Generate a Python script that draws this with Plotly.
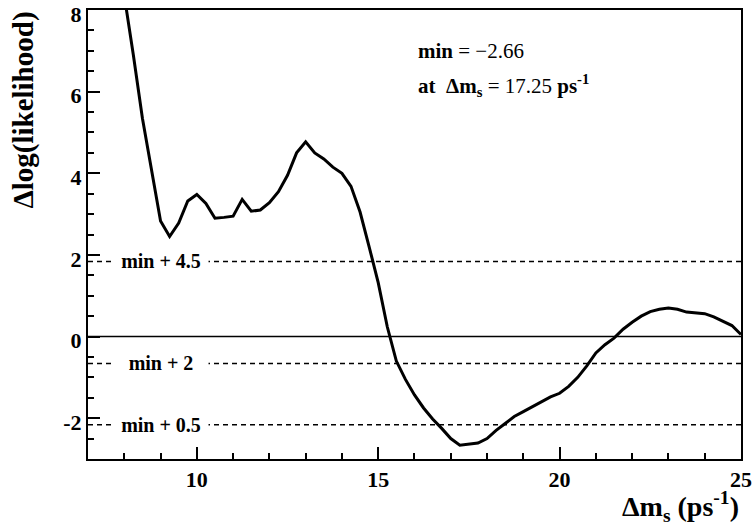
import plotly.graph_objects as go

# Likelihood scan: delta log(likelihood) versus Delta m_s (ps^-1)
dms = [7.75, 8.0, 8.25, 8.5, 8.75, 9.0, 9.25, 9.5, 9.75, 10.0,
       10.25, 10.5, 10.75, 11.0, 11.25, 11.5, 11.75, 12.0, 12.25, 12.5,
       12.75, 13.0, 13.25, 13.5, 13.75, 14.0, 14.25, 14.5, 14.75, 15.0,
       15.25, 15.5, 15.75, 16.0, 16.25, 16.5, 16.75, 17.0, 17.25, 17.5,
       17.75, 18.0, 18.25, 18.5, 18.75, 19.0, 19.25, 19.5, 19.75, 20.0,
       20.25, 20.5, 20.75, 21.0, 21.25, 21.5, 21.75, 22.0, 22.25, 22.5,
       22.75, 23.0, 23.25, 23.5, 23.75, 24.0, 24.25, 24.5, 24.75, 25.0]
dlogl = [9.8, 8.4, 6.9, 5.35, 4.05, 2.83, 2.45, 2.78, 3.32, 3.48,
         3.26, 2.9, 2.92, 2.95, 3.36, 3.07, 3.1, 3.28, 3.55, 3.95,
         4.5, 4.77, 4.5, 4.35, 4.15, 4.0, 3.68, 3.05, 2.2, 1.32,
         0.24, -0.6, -1.05, -1.43, -1.75, -2.02, -2.25, -2.5, -2.66, -2.64,
         -2.61, -2.5, -2.3, -2.13, -1.96, -1.84, -1.72, -1.6, -1.48, -1.39,
         -1.22, -1.0, -0.72, -0.4, -0.2, -0.04, 0.18, 0.35, 0.5, 0.61,
         0.67, 0.7, 0.67, 0.6, 0.58, 0.56, 0.48, 0.37, 0.27, 0.05]

min_value = -2.66
min_position = 17.25
level_offsets = [4.5, 2, 0.5]
level_labels = ["min + 4.5", "min + 2", "min + 0.5"]

x_ticks = [10, 15, 20, 25]
y_ticks = [-2, 0, 2, 4, 6, 8]

X_RANGE = [7, 25.0005]
Y_RANGE = [-3, 8.0005]
SERIF = "Liberation Serif"

fig = go.Figure()

fig.add_trace(go.Scatter(
    x=dms, y=dlogl, mode="lines",
    line=dict(color="black", width=3),
    hoverinfo="skip", showlegend=False,
))

# Zero reference line
fig.add_shape(type="line", xref="x", yref="y",
              x0=X_RANGE[0], x1=X_RANGE[1], y0=0, y1=0,
              line=dict(color="black", width=1.5))

# Confidence levels relative to the minimum
for off, lab in zip(level_offsets, level_labels):
    lvl = min_value + off
    fig.add_shape(type="line", xref="x", yref="y",
                  x0=X_RANGE[0], x1=X_RANGE[1], y0=lvl, y1=lvl,
                  line=dict(color="black", width=1.5, dash="5px,4px"))
    fig.add_annotation(x=9.0, y=lvl, xref="x", yref="y", text="<b>%s</b>" % lab,
                       showarrow=False, xanchor="center", yanchor="middle",
                       bgcolor="white", width=92, borderpad=1,
                       font=dict(family=SERIF, size=20, color="black"))

# Minimum summary
fig.add_annotation(x=16.04, y=7.0, xref="x", yref="y",
                   text="<b>min</b> = \u2212%.2f" % abs(min_value),
                   showarrow=False, xanchor="left", yanchor="middle",
                   font=dict(family=SERIF, size=21, color="black"))
fig.add_annotation(x=16.04, y=6.15, xref="x", yref="y",
                   text="<b>at  \u0394m<sub>s</sub></b> = %.2f <b>ps<sup>-1</sup></b>" % min_position,
                   showarrow=False, xanchor="left", yanchor="middle",
                   font=dict(family=SERIF, size=21, color="black"))

# Axis titles
fig.add_annotation(x=0, y=1, xref="paper", yref="paper",
                   text="<b>\u0394log(likelihood)</b>", textangle=-90,
                   showarrow=False, xanchor="center", yanchor="top", xshift=-65,
                   font=dict(family=SERIF, size=29, color="black"))
fig.add_annotation(x=1, y=0, xref="paper", yref="paper",
                   text="<b>\u0394m<sub>s</sub> (ps<sup>-1</sup>)</b>",
                   showarrow=False, xanchor="right", yanchor="top", yshift=-26,
                   font=dict(family=SERIF, size=28, color="black"))

axis_common = dict(
    showgrid=False, zeroline=False, showline=True, linecolor="black",
    linewidth=2, mirror=True, ticks="inside", ticklen=12, tickwidth=1.5,
    tickcolor="black", tickfont=dict(family=SERIF, size=22, color="black"),
    automargin=False, ticklabeloverflow="allow",
)

fig.update_xaxes(range=X_RANGE, tickmode="array", tickvals=x_ticks,
                 ticktext=["<b>%d</b>" % v for v in x_ticks],
                 minor=dict(dtick=1, tick0=0, ticks="inside", ticklen=6,
                            tickwidth=1.5, tickcolor="black"),
                 **axis_common)
fig.update_yaxes(range=Y_RANGE, tickmode="array", tickvals=y_ticks,
                 ticktext=["<b>%d</b>" % v for v in y_ticks],
                 ticklabelshift=4,
                 minor=dict(dtick=0.5, tick0=0, ticks="inside", ticklen=6,
                            tickwidth=1.5, tickcolor="black"),
                 **axis_common)

fig.update_layout(
    width=753, height=525,
    margin=dict(l=88, r=12, t=10, b=66),
    paper_bgcolor="white", plot_bgcolor="white",
    font=dict(family=SERIF, color="black"),
)

fig.write_html("out.html")
